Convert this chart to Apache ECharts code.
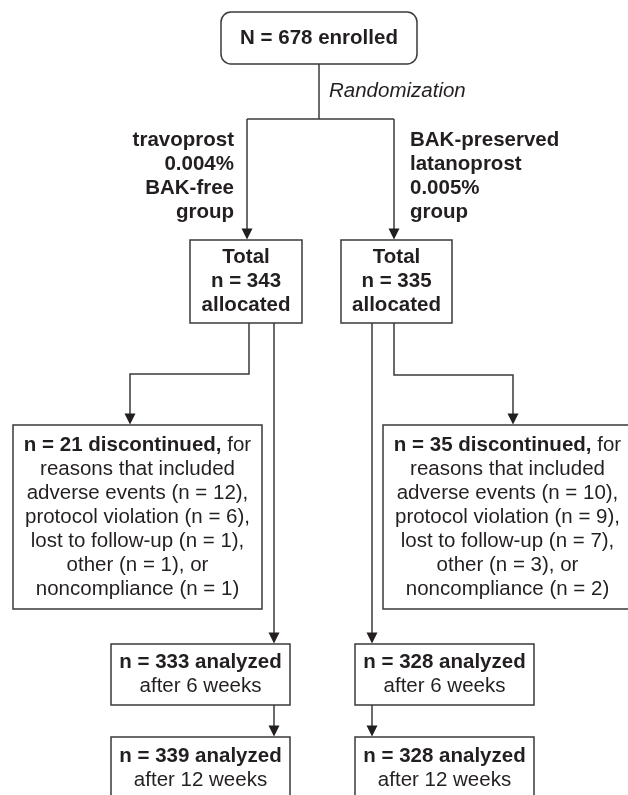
<!DOCTYPE html>
<html><head><meta charset="utf-8">
<script src="https://cdn.jsdelivr.net/npm/echarts@6/dist/echarts.min.js"></script>
<style>html,body{margin:0;padding:0;background:#fff}#c{width:628px;height:795px}</style>
</head><body><div id="c"></div>
<script>
// ---- data ----
const enrolled = 678;
const randomizationLabel = 'Randomization';
const groupLabels = [['travoprost', '0.004%', 'BAK-free', 'group'], ['BAK-preserved', 'latanoprost', '0.005%', 'group']];
const allocated = [343, 335];
const discontinued = [21, 35];
const reasonNames = ['adverse events', 'protocol violation', 'lost to follow-up', 'other', 'noncompliance'];
const reasonCounts = [[12, 6, 1, 1, 1], [10, 9, 7, 3, 2]];
const analyzedWeeks = [6, 12];
const analyzed = [[333, 339], [328, 328]];

// ---- styles / layout (axis units equal pixels) ----
const FONT = '"Liberation Sans", Arial, Helvetica, sans-serif';
const FS = 20.5, LH = 24;
const INK = '#231f20', STROKE = '#3a3a3a', LW = 1.5;

function discLines(g) {
  const c = reasonCounts[g];
  return [
    '{b|n = ' + discontinued[g] + ' discontinued,} for',
    'reasons that included',
    reasonNames[0] + ' (n = ' + c[0] + '),',
    reasonNames[1] + ' (n = ' + c[1] + '),',
    reasonNames[2] + ' (n = ' + c[2] + '),',
    reasonNames[3] + ' (n = ' + c[3] + '), or',
    reasonNames[4] + ' (n = ' + c[4] + ')'
  ];
}

const boxLayout = [
  { box: [221, 12, 417, 64], r: 10, lines: ['{b|N = ' + enrolled + ' enrolled}'] },
  { box: [190, 240, 302, 323], r: 0, lines: ['{b|Total}', '{b|n = ' + allocated[0] + '}', '{b|allocated}'] },
  { box: [341, 240, 452, 323], r: 0, lines: ['{b|Total}', '{b|n = ' + allocated[1] + '}', '{b|allocated}'] },
  { box: [13, 425, 262, 609], r: 0, lines: discLines(0) },
  { box: [383, 425, 632, 609], r: 0, lines: discLines(1) },
  { box: [111, 644, 290, 705], r: 0, lines: ['{b|n = ' + analyzed[0][0] + ' analyzed}', 'after ' + analyzedWeeks[0] + ' weeks'] },
  { box: [111, 737, 290, 799], r: 0, lines: ['{b|n = ' + analyzed[0][1] + ' analyzed}', 'after ' + analyzedWeeks[1] + ' weeks'] },
  { box: [355, 644, 534, 705], r: 0, lines: ['{b|n = ' + analyzed[1][0] + ' analyzed}', 'after ' + analyzedWeeks[0] + ' weeks'] },
  { box: [355, 737, 534, 799], r: 0, lines: ['{b|n = ' + analyzed[1][1] + ' analyzed}', 'after ' + analyzedWeeks[1] + ' weeks'] }
];

const connLayout = [
  { pts: [[319, 64], [319, 119]], arrow: false },
  { pts: [[247, 119], [394, 119]], arrow: false },
  { pts: [[247, 119], [247, 240]], arrow: true },
  { pts: [[394, 119], [394, 240]], arrow: true },
  { pts: [[249, 323], [249, 374], [130, 374], [130, 425]], arrow: true },
  { pts: [[274, 323], [274, 644]], arrow: true },
  { pts: [[394, 323], [394, 375], [513, 375], [513, 425]], arrow: true },
  { pts: [[372, 323], [372, 644]], arrow: true },
  { pts: [[274, 705], [274, 737]], arrow: true },
  { pts: [[372, 705], [372, 737]], arrow: true }
];

const textLayout = [
  { x: 329, y: 91, align: 'left', text: randomizationLabel, style: 'italic', weight: 'normal' },
  { x: 234, y: 140, align: 'right', text: groupLabels[0].join('\n'), style: 'normal', weight: 'bold' },
  { x: 410, y: 140, align: 'left', text: groupLabels[1].join('\n'), style: 'normal', weight: 'bold' }
];

const rich = { b: { fontWeight: 'bold', fontSize: FS, fontFamily: FONT, lineHeight: LH, fill: INK, color: INK } };

const chart = echarts.init(document.getElementById('c'), null, { renderer: 'canvas' });

chart.setOption({
  animation: false,
  backgroundColor: '#ffffff',
  grid: { left: 0, right: 0, top: 0, bottom: 0 },
  xAxis: { type: 'value', min: 0, max: 628, show: false },
  yAxis: { type: 'value', min: 0, max: 795, inverse: true, show: false },
  series: [
    {
      type: 'custom', coordinateSystem: 'cartesian2d', clip: false, silent: true,
      data: connLayout.map(() => [0, 0]),
      renderItem: function (params, api) {
        const c = connLayout[params.dataIndex];
        const pts = c.pts.map(p => api.coord(p));
        const children = [];
        const last = pts[pts.length - 1];
        const linePts = pts.slice();
        if (c.arrow) linePts[linePts.length - 1] = [last[0], last[1] - 6];
        children.push({ type: 'polyline', shape: { points: linePts }, style: { stroke: STROKE, lineWidth: LW, fill: null } });
        if (c.arrow) {
          children.push({ type: 'polygon', shape: { points: [[last[0] - 5.5, last[1] - 11.5], [last[0] + 5.5, last[1] - 11.5], [last[0], last[1] - 0.5]] }, style: { fill: INK, stroke: null } });
        }
        return { type: 'group', children: children };
      }
    },
    {
      type: 'custom', coordinateSystem: 'cartesian2d', clip: false, silent: true,
      data: boxLayout.map(() => [0, 0]),
      renderItem: function (params, api) {
        const b = boxLayout[params.dataIndex];
        const p0 = api.coord([b.box[0], b.box[1]]);
        const p1 = api.coord([b.box[2], b.box[3]]);
        return {
          type: 'group',
          children: [
            { type: 'rect', shape: { x: p0[0], y: p0[1], width: p1[0] - p0[0], height: p1[1] - p0[1], r: b.r }, style: { fill: '#ffffff', stroke: STROKE, lineWidth: LW } },
            { type: 'text', style: { text: b.lines.join('\n'), x: (p0[0] + p1[0]) / 2, y: (p0[1] + p1[1]) / 2, align: 'center', verticalAlign: 'middle', fontSize: FS, fontFamily: FONT, lineHeight: LH, fill: INK, rich: rich } }
          ]
        };
      }
    },
    {
      type: 'custom', coordinateSystem: 'cartesian2d', clip: false, silent: true,
      data: textLayout.map(() => [0, 0]),
      renderItem: function (params, api) {
        const t = textLayout[params.dataIndex];
        const p = api.coord([t.x, t.y]);
        return {
          type: 'text',
          style: { text: t.text, x: p[0], y: p[1] - LH / 2, align: t.align, verticalAlign: 'top', fontSize: FS, fontFamily: FONT, fontStyle: t.style, fontWeight: t.weight, lineHeight: LH, fill: INK }
        };
      }
    }
  ]
});
</script>
</body></html>
